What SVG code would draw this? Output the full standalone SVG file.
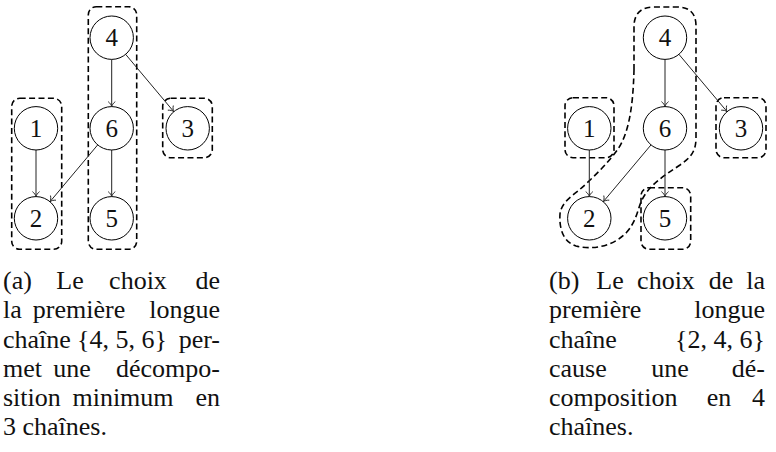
<svg xmlns="http://www.w3.org/2000/svg" width="776" height="452" viewBox="0 0 776 452">
<style>
.nd circle{fill:#fff;stroke:#000;stroke-width:1}
.nd text{font-family:"Liberation Serif",serif;font-size:25px;text-anchor:middle;fill:#111}
.ed line{stroke:#222;stroke-width:1;marker-end:url(#arr)}
.ch{fill:none;stroke:#000;stroke-width:1.6;stroke-dasharray:6 3.4}
.cap{font-family:"Liberation Serif",serif;font-size:26px;fill:#111}
.m{text-anchor:middle}
.e{text-anchor:end}
</style>
<defs>
<marker id="arr" viewBox="-6 -5 7 10" markerWidth="7" markerHeight="10" refX="0" refY="0" orient="auto" markerUnits="userSpaceOnUse" overflow="visible">
<path d="M -5,-3.6 C -3.5,-1.5 -1.5,-0.4 0,0 C -1.5,0.4 -3.5,1.5 -5,3.6" fill="none" stroke="#222" stroke-width="0.9"/>
</marker>
</defs>

<!-- chains (dashed groupings) -->
<g id="chains-a">
<rect class="ch" x="11.7" y="98.3" width="50" height="151" rx="8"/>
<rect class="ch" x="88.3" y="6.7" width="48.4" height="242.6" rx="8"/>
<rect class="ch" x="162.7" y="98.3" width="49.6" height="59.4" rx="8"/>
</g>
<g id="chains-b">
<rect class="ch" x="565" y="97.7" width="49" height="60" rx="8"/>
<rect class="ch" x="716" y="97.7" width="50" height="60" rx="8"/>
<rect class="ch" x="641" y="187.7" width="49.7" height="61.6" rx="8"/>
<path class="ch" d="M 634,70 L 634,27 Q 634,7 654,7 L 677,7 Q 696,7 696,26 L 696,138 C 696,152 690,158 680,165 C 662,177 648,186 641,202 C 637,212 636,222 626,233 C 612,247 592,250 576,246 C 563,242 559,228 560,214 C 561,204 570,197 578,191 C 592,179 608,163 618,149 C 628,134 633,110 634,70 Z"/>
</g>

<!-- connectors -->
<g id="connectors" class="ed">
<line x1="111.7" y1="59.4" x2="111.7" y2="106.6"/>
<line x1="125.6" y1="54.3" x2="173.8" y2="111.7"/>
<line x1="111.7" y1="150" x2="111.7" y2="196.6"/>
<line x1="36" y1="150" x2="36" y2="196.6"/>
<line x1="97.7" y1="144.9" x2="50" y2="201.7"/>
<line x1="665" y1="59.4" x2="665" y2="106.6"/>
<line x1="678.9" y1="54.3" x2="727.1" y2="111.7"/>
<line x1="665" y1="150" x2="665" y2="196.6"/>
<line x1="589.3" y1="150" x2="589.3" y2="196.6"/>
<line x1="651" y1="144.9" x2="603.3" y2="201.7"/>
</g>

<!-- nodes (a) -->
<g id="a-n4" class="nd"><circle cx="111.7" cy="37.7" r="21.7"/><text x="111.7" y="46">4</text></g>
<g id="a-n6" class="nd"><circle cx="111.7" cy="128.3" r="21.7"/><text x="111.7" y="136.6">6</text></g>
<g id="a-n5" class="nd"><circle cx="111.7" cy="218.3" r="21.7"/><text x="111.7" y="226.6">5</text></g>
<g id="a-n1" class="nd"><circle cx="36" cy="128.3" r="21.7"/><text x="36" y="136.6">1</text></g>
<g id="a-n2" class="nd"><circle cx="36" cy="218.3" r="21.7"/><text x="36" y="226.6">2</text></g>
<g id="a-n3" class="nd"><circle cx="187.7" cy="128.3" r="21.7"/><text x="187.7" y="136.6">3</text></g>

<!-- nodes (b) -->
<g id="b-n4" class="nd"><circle cx="665" cy="37.7" r="21.7"/><text x="665" y="46">4</text></g>
<g id="b-n6" class="nd"><circle cx="665" cy="128.3" r="21.7"/><text x="665" y="136.6">6</text></g>
<g id="b-n5" class="nd"><circle cx="665" cy="218.3" r="21.7"/><text x="665" y="226.6">5</text></g>
<g id="b-n1" class="nd"><circle cx="589.3" cy="128.3" r="21.7"/><text x="589.3" y="136.6">1</text></g>
<g id="b-n2" class="nd"><circle cx="589.3" cy="218.3" r="21.7"/><text x="589.3" y="226.6">2</text></g>
<g id="b-n3" class="nd"><circle cx="741" cy="128.3" r="21.7"/><text x="741" y="136.6">3</text></g>

<!-- caption (a) -->
<g id="caption-a" class="cap">
<text x="3" y="289">(a)</text><text class="m" x="70" y="289">Le</text><text class="m" x="138" y="289">choix</text><text class="e" x="220" y="289">de</text>
<text x="3" y="318">la</text><text class="m" x="79" y="318">première</text><text class="e" x="220" y="318">longue</text>
<text x="3" y="347.5">chaîne</text><text class="m" x="122" y="347.5">{4, 5, 6}</text><text class="e" x="220" y="347.5">per-</text>
<text x="3" y="377">met</text><text class="m" x="72" y="377">une</text><text class="e" x="220" y="377">décompo-</text>
<text x="3" y="406">sition</text><text class="m" x="123" y="406">minimum</text><text class="e" x="220" y="406">en</text>
<text x="3" y="435">3 chaînes.</text>
</g>

<!-- caption (b) -->
<g id="caption-b" class="cap">
<text x="549" y="289">(b)</text><text class="m" x="610" y="289">Le</text><text class="m" x="666" y="289">choix</text><text class="m" x="721" y="289">de</text><text class="e" x="765" y="289">la</text>
<text x="549" y="318">première</text><text class="e" x="765" y="318">longue</text>
<text x="549" y="347.5">chaîne</text><text class="e" x="765" y="347.5">{2, 4, 6}</text>
<text x="549" y="377">cause</text><text class="m" x="670" y="377">une</text><text class="e" x="765" y="377">dé-</text>
<text x="549" y="406">composition</text><text class="m" x="719" y="406">en</text><text class="e" x="765" y="406">4</text>
<text x="549" y="435">chaînes.</text>
</g>
</svg>
